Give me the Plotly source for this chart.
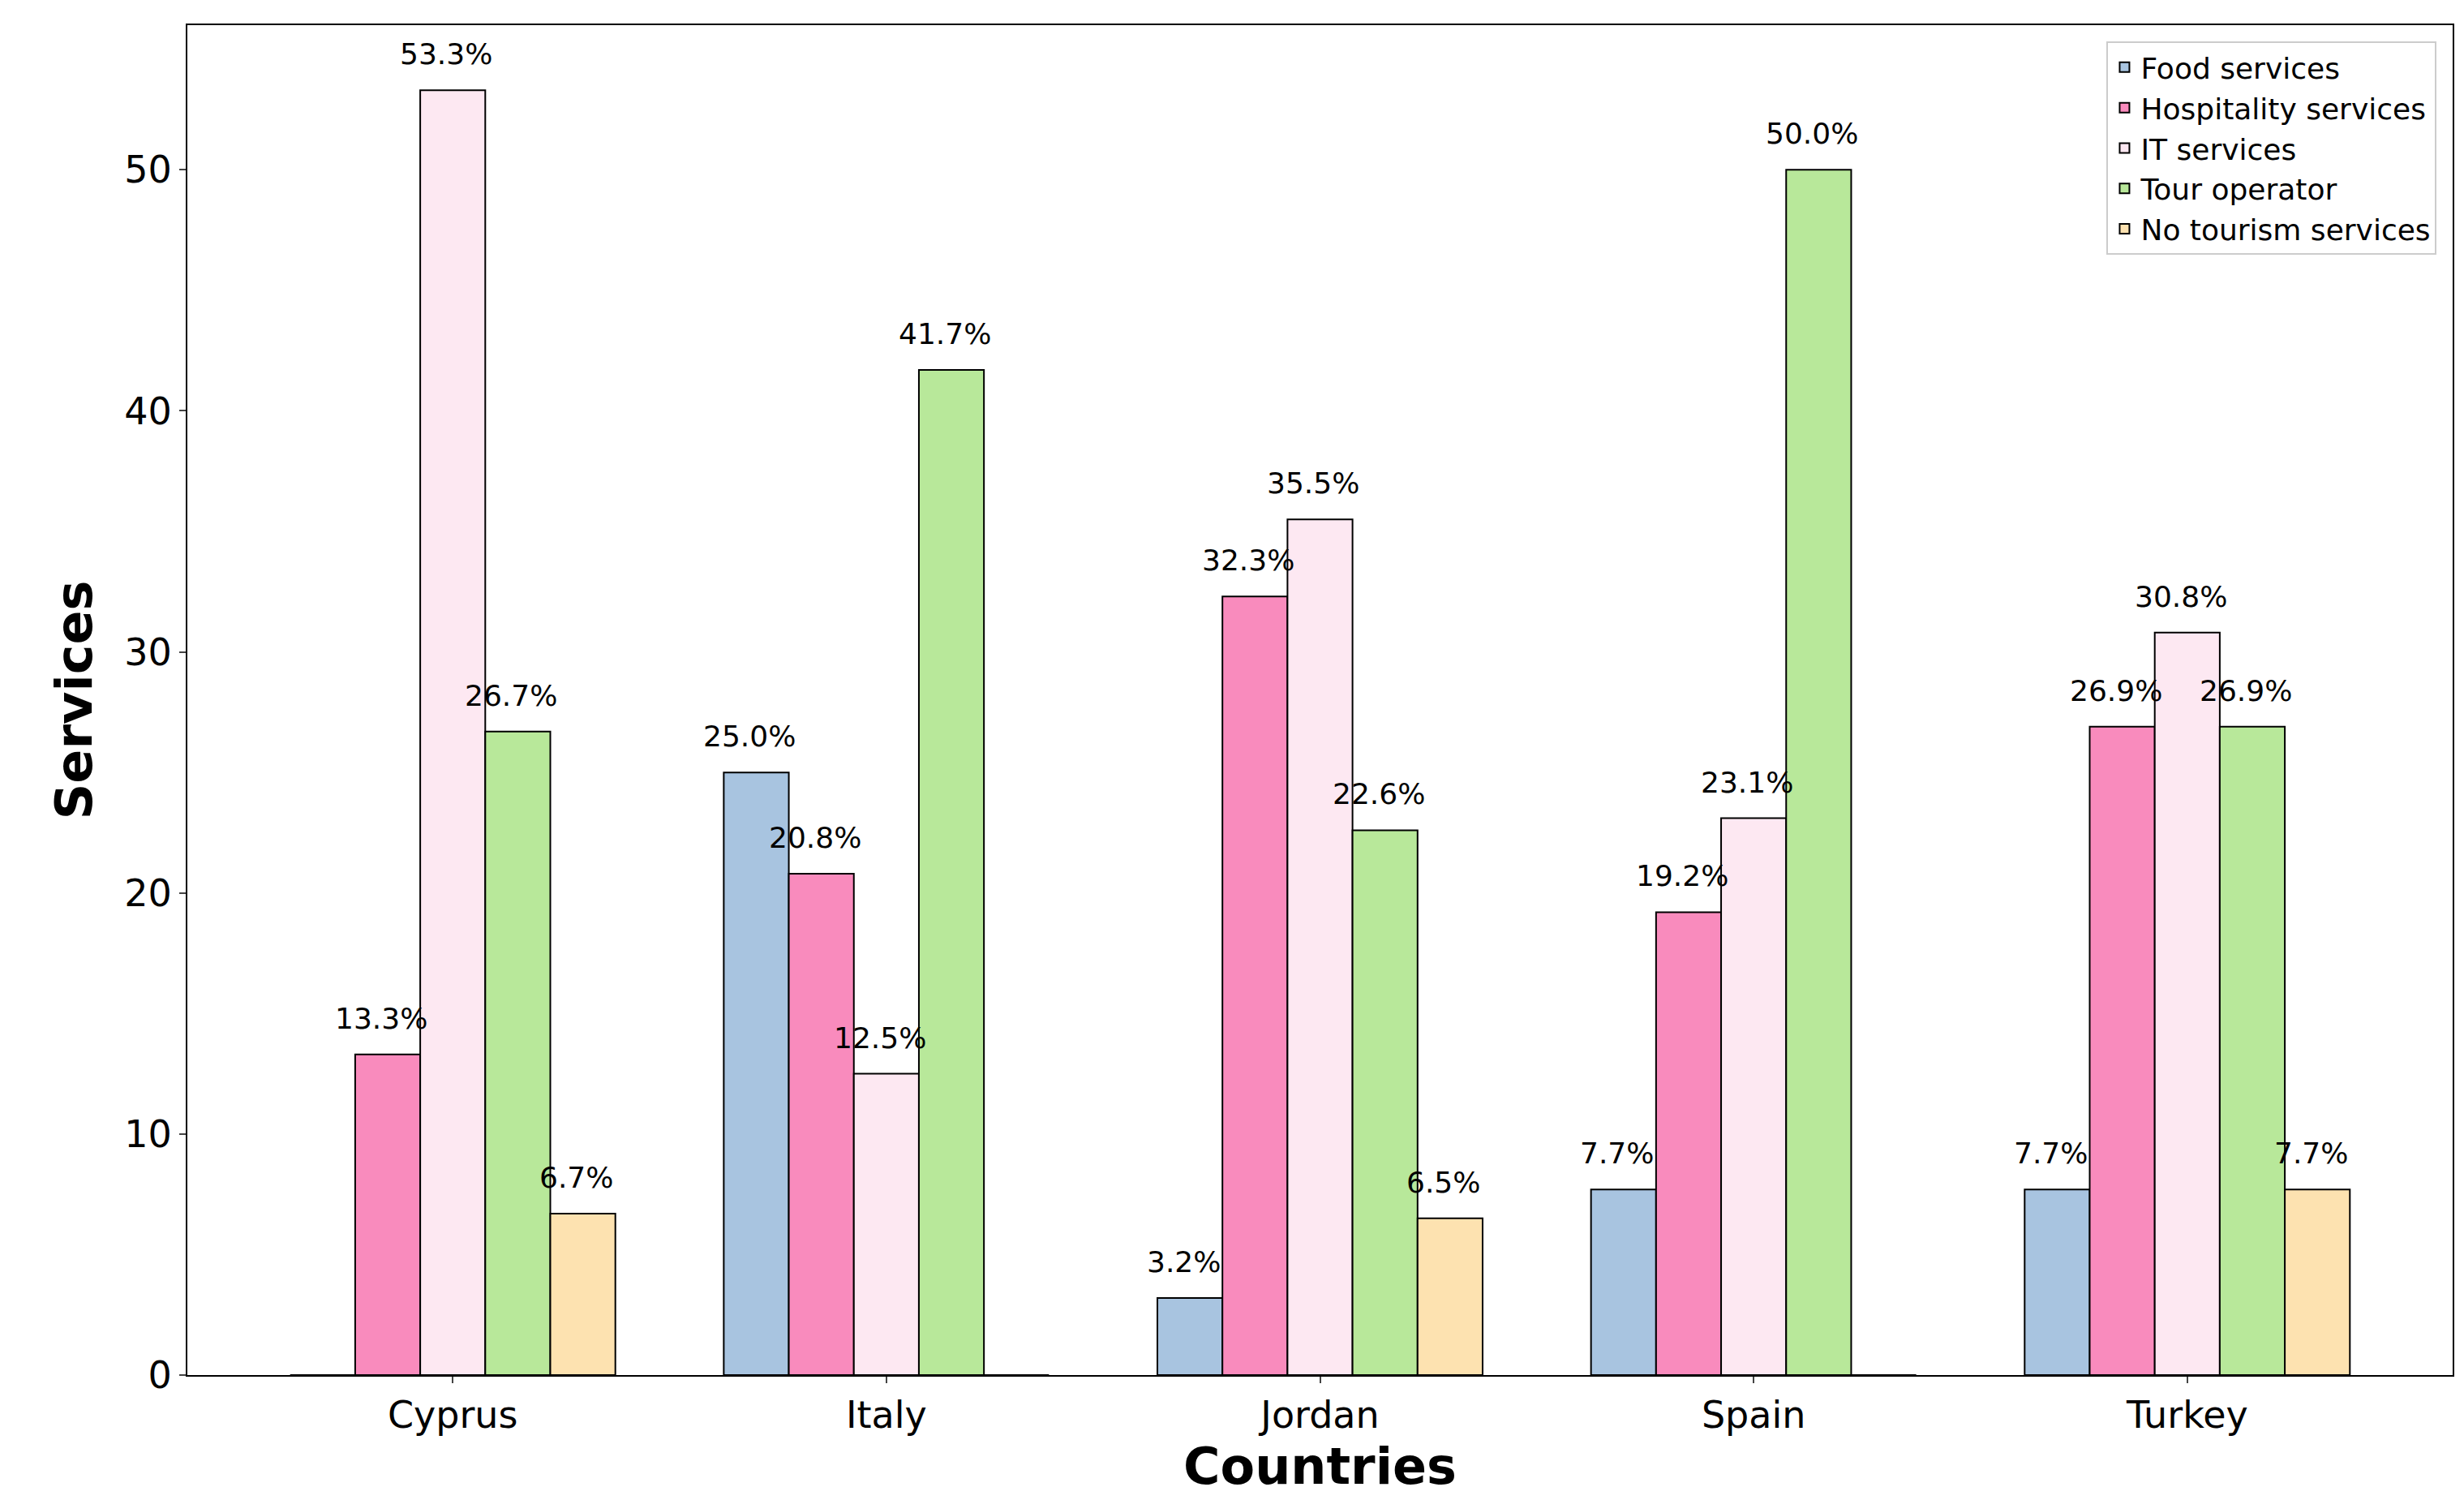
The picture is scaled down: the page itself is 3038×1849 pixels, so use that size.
import plotly.graph_objects as go

countries = ['Cyprus', 'Italy', 'Jordan', 'Spain', 'Turkey']
services = ['Food services', 'Hospitality services', 'IT services', 'Tour operator', 'No tourism services']
food = [0.0, 25.0, 3.2, 7.7, 7.7]
hospitality = [13.3, 20.8, 32.3, 19.2, 26.9]
it = [53.3, 12.5, 35.5, 23.1, 30.8]
tour = [26.7, 41.7, 22.6, 50.0, 26.9]
no_tourism = [6.7, 0.0, 6.5, 0.0, 7.7]

series = [food, hospitality, it, tour, no_tourism]
colors = ['#a8c4e0', '#f98bbd', '#fde8f2', '#b8e89a', '#fde2b0']
width = 0.15

fig = go.Figure()
annotations = []
for j, (name, vals) in enumerate(zip(services, series)):
    xs = [i + (j - 2) * width for i in range(len(countries))]
    fig.add_trace(go.Bar(
        x=xs, y=vals, width=width, name=name,
        marker=dict(color=colors[j], line=dict(color='black', width=2)),
    ))
    for x, v in zip(xs, vals):
        if v > 0:
            annotations.append(dict(
                x=x - 0.015, y=v, text=f"{v:.1f}%", showarrow=False,
                yanchor='bottom', yshift=22, font=dict(size=36, color='black'),
            ))

fig.update_layout(
    width=3038, height=1849,
    margin=dict(l=223, r=22, t=23, b=162),
    plot_bgcolor='white', paper_bgcolor='white',
    barmode='overlay',
    font=dict(family='DejaVu Sans', color='black'),
    annotations=annotations,
    legend=dict(
        x=0.993, y=0.988, xanchor='right', yanchor='top',
        bordercolor='#cccccc', borderwidth=2, bgcolor='white',
        font=dict(size=36),
    ),
)
fig.update_xaxes(
    range=[-0.612, 4.612], tickvals=list(range(len(countries))), ticktext=countries,
    tickfont=dict(size=46), ticks='outside', ticklen=8, tickwidth=2,
    showline=True, linecolor='black', linewidth=2, mirror=True, showgrid=False,
    title=dict(text='<b>Countries</b>', font=dict(size=62), standoff=10),
)
fig.update_yaxes(
    range=[0, 56], tickvals=[0, 10, 20, 30, 40, 50], ticksuffix='%',
    tickfont=dict(size=46), ticks='outside', ticklen=8, tickwidth=2,
    showline=True, linecolor='black', linewidth=2, mirror=True, showgrid=False,
    zeroline=False,
    title=dict(text='<b>Services</b>', font=dict(size=62), standoff=20),
)

fig.write_html("out.html")
